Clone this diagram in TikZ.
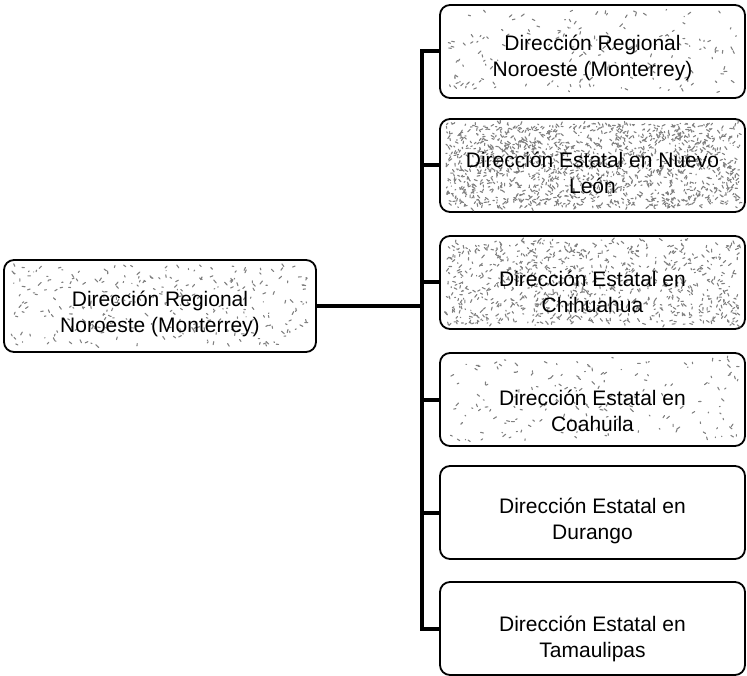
\documentclass[tikz,border=0pt]{standalone}
\usepackage{fontspec}
\setmainfont{Liberation Sans}
\begin{document}
\begin{tikzpicture}[x=1pt,y=-1pt,
  box/.style={draw=black,line width=1.8pt,rounded corners=10pt,
    minimum width=305pt,minimum height=93pt,inner sep=0pt},
  leftbox/.style={box,minimum width=312pt,minimum height=92pt},
  label/.style={align=center,font=\fontsize{21}{26}\selectfont,inner sep=0pt},
  conn/.style={line width=4pt},
  specks/.style={draw=black!50,line width=1.1pt,line cap=round}]
\useasboundingbox (0,0) rectangle (747,676);

% scattered shading marks inside a box: x1,y1,x2,y2,count,seed
\newcommand{\scatterfill}[6]{%
  \pgfmathsetseed{#6}%
  \foreach \k in {1,...,#5}{%
    \pgfmathsetmacro{\sx}{#1+(#3-#1)*rnd}%
    \pgfmathsetmacro{\sy}{#2+(#4-#2)*rnd}%
    \pgfmathsetmacro{\dx}{6*rnd-3}%
    \pgfmathsetmacro{\dy}{6*rnd-3}%
    \draw[specks] (\sx,\sy) -- ++(\dx,\dy);
  }}

% boxes
\node[leftbox] (L) at (160,306) {};
\node[box] (R1) at (592.5,51.5) {};
\node[box] (R2) at (592.5,165.5) {};
\node[box] (R3) at (592.5,282.5) {};
\node[box] (R4) at (592.5,399.5) {};
\node[box] (R5) at (592.5,512.5) {};
\node[box] (R6) at (592.5,628.5) {};

% shading
\scatterfill{12}{266}{310}{346}{300}{11}
\scatterfill{448}{10}{738}{92}{170}{23}
\scatterfill{446}{123}{740}{208}{1500}{37}
\scatterfill{446}{240}{740}{325}{850}{41}
\scatterfill{448}{357}{738}{441}{170}{53}

% texts
\node[label] (tL) at ([yshift=-8pt]L.center) {Dirección Regional\\Noroeste (Monterrey)};
\node[label] (t1) at ([yshift=-6pt]R1.center) {Dirección Regional\\Noroeste (Monterrey)};
\node[label] (t2) at ([yshift=-7pt]R2.center) {Dirección Estatal en Nuevo\\León};
\node[label] (t3) at ([yshift=-9pt]R3.center) {Dirección Estatal en\\Chihuahua};
\node[label] (t4) at ([yshift=-11pt]R4.center) {Dirección Estatal en\\Coahuila};
\node[label] (t5) at ([yshift=-8pt]R5.center) {Dirección Estatal en\\Durango};
\node[label] (t6) at ([yshift=-10pt]R6.center) {Dirección Estatal en\\Tamaulipas};

% connectors
\coordinate (trunk) at (422,0);
\draw[conn] (L.east) -- (L.east -| trunk);
\draw[conn,line cap=rect] (R1.west -| trunk) -- (R6.west -| trunk);
\foreach \r in {R1,R2,R3,R4,R5,R6}{
  \draw[conn] (\r.west -| trunk) -- (\r.west);
}
\end{tikzpicture}
\end{document}
